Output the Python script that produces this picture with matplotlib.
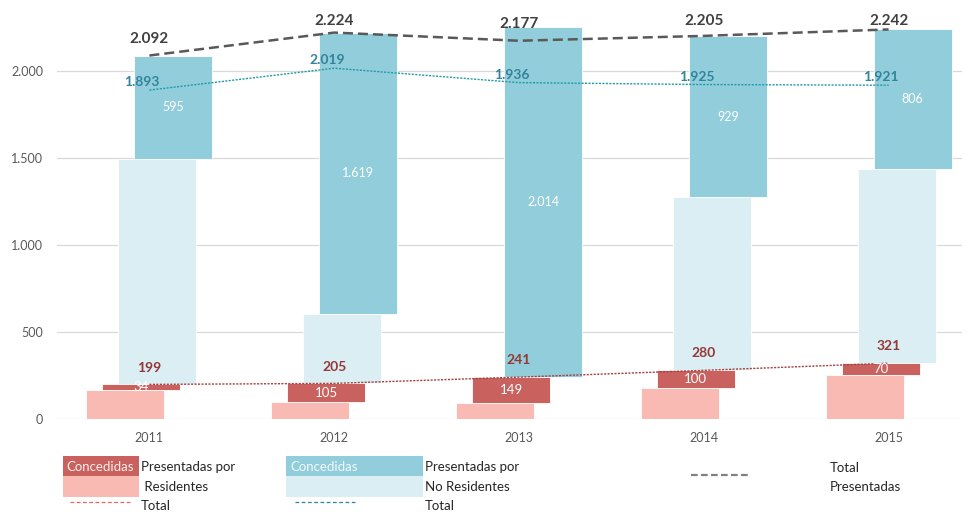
import numpy as np
import matplotlib
matplotlib.use("Agg")
import matplotlib.pyplot as plt
from matplotlib.patches import Rectangle
from matplotlib.lines import Line2D

# ── data ──────────────────────────────────────────────────────────────────────
years = ["2011", "2012", "2013", "2014", "2015"]
res_total = [199, 205, 241, 280, 321]            # presentadas por residentes
res_concedidas = [34, 105, 149, 100, 70]
nores_total = [1893, 2019, 1936, 1925, 1921]     # presentadas por no residentes
nores_concedidas = [595, 1619, 2014, 929, 806]
total_presentadas = [2092, 2224, 2177, 2205, 2242]

# ── colours ───────────────────────────────────────────────────────────────────
C_PINK = "#F8BAB3"
C_DRED = "#C9625F"
C_LBLUE = "#DAEEF3"
C_BLUE = "#92CDDC"
C_RED_TXT = "#953735"
C_TEAL_TXT = "#31849B"
C_GREY_TXT = "#404040"

plt.rcParams["font.family"] = ["Lato", "DejaVu Sans"]


def fmt(v):
    return f"{v:,}".replace(",", ".")


W, H = 967, 512
fig = plt.figure(figsize=(W / 100, H / 100), dpi=100)
ax = fig.add_axes([57 / W, 1 - 419 / H, (962 - 57) / W, (419 - 2) / H])

x = np.arange(len(years))
res_total = np.array(res_total)
res_conc = np.array(res_concedidas)
nores_total = np.array(nores_total)
nores_conc = np.array(nores_concedidas)

res_pres = res_total - res_conc
nores_pres = nores_total - nores_conc
nores_pres_pos = np.clip(nores_pres, 0, None)
blue_bottom = res_total + nores_pres_pos

bw = 0.422
step = 0.0866
ax.bar(x - 1.5 * step, res_pres, bw, color=C_PINK, edgecolor="white", lw=0.6, zorder=2)
ax.bar(x - 0.5 * step, res_conc, bw, bottom=res_pres, color=C_DRED, edgecolor="white", lw=0.6, zorder=3)
ax.bar(x + 0.5 * step, nores_pres_pos, bw, bottom=res_total, color=C_LBLUE, edgecolor="white", lw=0.6, zorder=2)
ax.bar(x + 1.5 * step, nores_conc, bw, bottom=blue_bottom, color=C_BLUE, edgecolor="white", lw=0.6, zorder=3)

# total lines
ax.plot(x, total_presentadas, color="#595959", lw=1.8, dashes=(4, 2), zorder=5)
ax.plot(x, nores_total, color="#1F9BA6", lw=1.0, ls=(0, (1.5, 1)), zorder=5)
ax.plot(x, res_total, color="#A5403E", lw=1.0, ls=(0, (1.5, 1)), zorder=5)

# labels
for i in range(len(years)):
    ax.text(x[i], min(total_presentadas[i] + 95, 2293), fmt(total_presentadas[i]),
            ha="center", va="center", fontsize=11, fontweight="bold", color=C_GREY_TXT, zorder=6)
    ax.text(x[i] - 0.04, nores_total[i] + 45, fmt(nores_total[i]),
            ha="center", va="center", fontsize=10, fontweight="bold", color=C_TEAL_TXT, zorder=6)
    ax.text(x[i], res_total[i] + 97, fmt(res_total[i]),
            ha="center", va="center", fontsize=10, fontweight="bold", color=C_RED_TXT, zorder=6)
    ax.text(x[i] - 0.5 * step, res_pres[i] + res_conc[i] / 2, fmt(res_conc[i]),
            ha="center", va="center", fontsize=9.5, color="white", zorder=6)
    ax.text(x[i] + 1.5 * step, blue_bottom[i] + nores_conc[i] / 2, fmt(nores_conc[i]),
            ha="center", va="center", fontsize=9, color="white", zorder=6)

ax.set_xlim(-0.5, -0.5 + (962 - 57) / 184.8)
ax.set_ylim(0, 2400)
ax.set_yticks([0, 500, 1000, 1500, 2000])
ax.set_yticklabels([fmt(v) for v in [0, 500, 1000, 1500, 2000]])
ax.set_xticks(x)
ax.set_xticklabels(years)
ax.tick_params(axis="both", length=0, labelsize=9, labelcolor="#595959")
ax.tick_params(axis="y", pad=10)
ax.tick_params(axis="x", pad=9)
ax.grid(axis="y", color="#D9D9D9", lw=0.9, zorder=0)
ax.set_axisbelow(True)
for s in ax.spines.values():
    s.set_visible(False)


# ── legend (drawn by hand, table-like) ────────────────────────────────────────
def fx(px):
    return px / W


def fy(py):
    return 1 - py / H


def box(x0, y0, x1, y1, color):
    fig.patches.append(Rectangle((fx(x0), fy(y1)), fx(x1) - fx(x0), fy(y0) - fy(y1),
                                 transform=fig.transFigure, color=color, lw=0))


def line(x0, x1, y, color, **kw):
    fig.lines.append(Line2D([fx(x0), fx(x1)], [fy(y), fy(y)], transform=fig.transFigure,
                            color=color, **kw))


def txt(x0, y, s, color="#262626"):
    fig.text(fx(x0), fy(y), s, ha="left", va="center", fontsize=9.5, color=color)


box(63, 456, 139, 476, C_DRED)
box(63, 476, 139, 497, C_PINK)
txt(66, 467, "Concedidas", "#F8EEEE")
line(70, 130, 502, "#E06666", lw=0.9, ls=(0, (3, 2)))
txt(141, 467, "Presentadas por")
txt(141, 487, " Residentes")
txt(141, 506, "Total")

box(286, 456, 423, 476, C_BLUE)
box(286, 476, 423, 497, C_LBLUE)
txt(290, 467, "Concedidas", "#F2FAFC")
line(295, 355, 502, "#31849B", lw=0.9, ls=(0, (3, 2)))
txt(425, 467, "Presentadas por")
txt(425, 487, "No Residentes")
txt(425, 506, "Total")

line(691, 749, 475, "#808080", lw=1.6, ls=(0, (3, 1.5)))
txt(830, 468, "Total")
txt(830, 487, "Presentadas")

fig.savefig("out.png", dpi=100)
